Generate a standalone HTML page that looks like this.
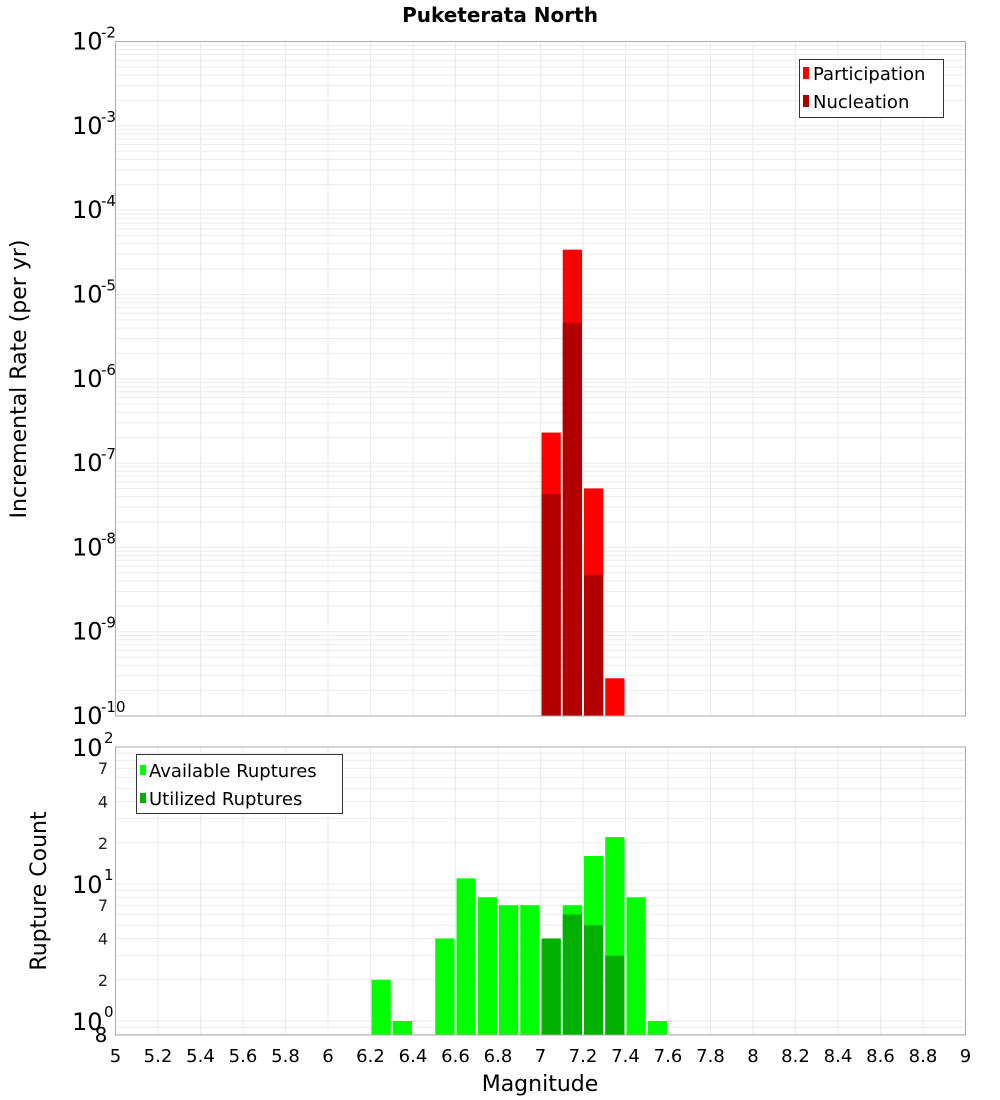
<!DOCTYPE html>
<html><head><meta charset="utf-8"><style>
body{margin:0;background:#fff;}
svg{display:block;font-family:"DejaVu Sans","Liberation Sans",sans-serif;}
</style></head><body>
<svg id="c" width="1000" height="1100"></svg>
<script>
const bins=[6.25,6.35,6.55,6.65,6.75,6.85,6.95,7.05,7.15,7.25,7.35,7.45,7.55];
const available=[2,1,4,11,8,7,7,4,7,16,22,8,1];
const utilizedBins=[7.05,7.15,7.25,7.35];
const utilized=[4,6,5,3];
const rateBins=[7.05,7.15,7.25,7.35];
const participation=[2.3e-7,3.4e-5,5e-8,2.8e-10];
const nucleation=[4.3e-8,4.6e-6,4.7e-9,0];
const xTicks=[5,5.2,5.4,5.6,5.8,6,6.2,6.4,6.6,6.8,7,7.2,7.4,7.6,7.8,8,8.2,8.4,8.6,8.8,9];
const topExps=[-10,-9,-8,-7,-6,-5,-4,-3,-2];
const botMinor=[2,4,7,20,40,70];

const NS="http://www.w3.org/2000/svg";
const svg=document.getElementById('c');
function mk(t,a,p){const e=document.createElementNS(NS,t);for(const k in a)e.setAttribute(k,a[k]);(p||svg).appendChild(e);return e;}
const X0=115.5,X1=965.5;
const xs=m=>X0+(m-5)/(9-5)*(X1-X0);
const T0=41.5,T1=716;
const yTop=v=>T1-(Math.log10(v)+10)/8*(T1-T0);
const B0=747,B1=1035;
const yBot=v=>1021-Math.log10(v)*137;

// title
let t=mk('text',{x:500,y:22,'text-anchor':'middle','font-size':20,'font-weight':'bold'});
t.textContent='Puketerata North';



function panel(y0,y1,name){
  const g=mk('g',{});
  
  
  mk('rect',{x:X0,y:y0,width:X1-X0,height:y1-y0,fill:'#fff'},g);
  return g;
}
// top panel
const gt=panel(T0,T1,'rate-plot');
const gridT=mk('g',{stroke:'#ebebeb','stroke-width':1},gt);
for(const m of xTicks)mk('line',{x1:xs(m),x2:xs(m),y1:T0,y2:T1},gridT);
for(let e=-10;e<-2;e++)for(let k=1;k<10;k++){const y=yTop(k*Math.pow(10,e));mk('line',{x1:X0,x2:X1,y1:y,y2:y},gridT);}
const bw=xs(5.1)-xs(5)-2;
rateBins.forEach((m,i)=>{
  let r=mk('rect',{x:xs(m-0.05)+1,y:yTop(participation[i]),width:bw,height:T1-yTop(participation[i]),fill:'#ff0000'},gt);
  
  
  if(nucleation[i]>0){
    let n=mk('rect',{x:xs(m-0.05)+1,y:yTop(nucleation[i]),width:bw,height:T1-yTop(nucleation[i]),fill:'#b20000'},gt);
    
    
  }
});
mk('rect',{x:X0,y:T0,width:X1-X0,height:T1-T0,fill:'none',stroke:'#aaa'},gt);
topExps.forEach(e=>{
  const y=yTop(Math.pow(10,e));
  let tx=mk('text',{x:72,y:y+8,'font-size':24});
  tx.textContent='10';
  
  
  let s=mk('text',{x:101,y:y-4,'font-size':15});
  s.textContent=String(e);
});
// legend top
const lg=mk('g',{});


mk('rect',{x:799.5,y:59.5,width:144,height:58,fill:'#fff',stroke:'#333'},lg);
mk('rect',{x:803,y:67,width:6,height:12,fill:'#ff0000'},lg);
let l1=mk('text',{x:813,y:80,'font-size':18},lg);l1.textContent='Participation';
mk('rect',{x:803,y:95,width:6,height:12,fill:'#b20000'},lg);
let l2=mk('text',{x:813,y:108,'font-size':18},lg);l2.textContent='Nucleation';
let yt=mk('text',{transform:'translate(26,379) rotate(-90)','text-anchor':'middle','font-size':22});
yt.textContent='Incremental Rate (per yr)';



// bottom panel
const gb=panel(B0,B1,'count-plot');
const gridB=mk('g',{stroke:'#ebebeb','stroke-width':1},gb);
for(const m of xTicks)mk('line',{x1:xs(m),x2:xs(m),y1:B0,y2:B1},gridB);
[0.8,0.9,1,2,3,4,5,6,7,8,9,10,20,30,40,50,60,70,80,90].forEach(v=>{const y=yBot(v);if(y>=B0&&y<=B1)mk('line',{x1:X0,x2:X1,y1:y,y2:y},gridB);});
bins.forEach((m,i)=>{
  let r=mk('rect',{x:xs(m-0.05)+1,y:yBot(available[i]),width:bw,height:B1-yBot(available[i]),fill:'#00ff00'},gb);
  
  
});
utilizedBins.forEach((m,i)=>{
  let r=mk('rect',{x:xs(m-0.05)+1,y:yBot(utilized[i]),width:bw,height:B1-yBot(utilized[i]),fill:'#00b000'},gb);
  
  
});
mk('rect',{x:X0,y:B0,width:X1-X0,height:B1-B0,fill:'none',stroke:'#aaa'},gb);
[[100,'2'],[10,'1'],[1,'0']].forEach(([v,e])=>{
  const y=yBot(v);
  let tx=mk('text',{x:72,y:y+9,'font-size':24});tx.textContent='10';
  
  
  let s=mk('text',{x:104,y:y-4,'font-size':15});s.textContent=e;
});
botMinor.forEach(v=>{
  let tx=mk('text',{x:103,y:yBot(v)+6,'font-size':16,'text-anchor':'middle',fill:'#222'});
  tx.textContent=String(v).charAt(0);
});
let e8=mk('text',{x:101,y:1042,'font-size':20,'text-anchor':'middle'});e8.textContent='8';
const lg2=mk('g',{});


mk('rect',{x:136.5,y:754.5,width:206,height:59,fill:'#fff',stroke:'#333'},lg2);
mk('rect',{x:140,y:765,width:6,height:10,fill:'#00ff00'},lg2);
let m1=mk('text',{x:149,y:777,'font-size':18},lg2);m1.textContent='Available Ruptures';
mk('rect',{x:140,y:793,width:6,height:10,fill:'#00b000'},lg2);
let m2=mk('text',{x:149,y:805,'font-size':18},lg2);m2.textContent='Utilized Ruptures';
let yb=mk('text',{transform:'translate(46,891) rotate(-90)','text-anchor':'middle','font-size':22});
yb.textContent='Rupture Count';



xTicks.forEach(m=>{
  let tx=mk('text',{x:xs(m),y:1062,'text-anchor':'middle','font-size':18});
  tx.textContent=String(m);
  
  
});
let xt=mk('text',{x:540,y:1091,'text-anchor':'middle','font-size':22});
xt.textContent='Magnitude';


</script>
</body></html>
